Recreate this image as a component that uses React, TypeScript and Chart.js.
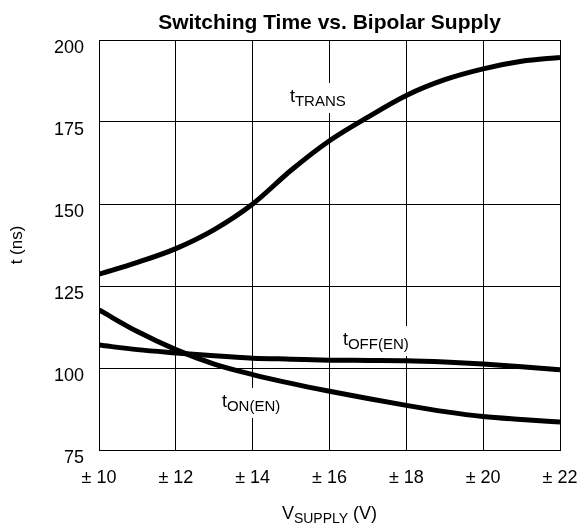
import React, { useEffect, useRef } from "react";
import { Chart, registerables } from "chart.js";

Chart.register(...registerables);

const supplyVolts = [10, 11, 12, 13, 14, 15, 16, 17, 18, 19, 20, 21, 22];
const tTrans = [128.6, 132.2, 136.4, 142.2, 150, 160.3, 169.3, 176.5, 183.1, 187.9, 191.2, 193.5, 194.7];
const tOffEn = [107, 105.6, 104.6, 103.7, 103, 102.7, 102.4, 102.3, 102.2, 101.8, 101.2, 100.4, 99.5];
const tOnEn = [117.7, 111.1, 105.6, 101.2, 98, 95.3, 92.9, 90.7, 88.6, 86.7, 85.2, 84.3, 83.5];
const xTickValues = [10, 12, 14, 16, 18, 20, 22];
const yTickValues = [75, 100, 125, 150, 175, 200];

const FONT = "'Liberation Sans', Arial, sans-serif";

const curveLabels = [
  { main: "t", sub: "TRANS", x: 14.97, y: 181.1 },
  { main: "t", sub: "OFF(EN)", x: 16.35, y: 107.0 },
  { main: "t", sub: "ON(EN)", x: 13.2, y: 88.1 },
];

const textPlugin = {
  id: "customText",
  beforeDatasetsDraw(chart: any) {
    const ctx = chart.ctx;
    const xs = chart.scales.x;
    const ys = chart.scales.y;
    ctx.save();
    for (const l of curveLabels) {
      const px = xs.getPixelForValue(l.x);
      const py = ys.getPixelForValue(l.y);
      ctx.font = `18px ${FONT}`;
      const wm = ctx.measureText(l.main).width;
      ctx.font = `15px ${FONT}`;
      const ws = ctx.measureText(l.sub).width;
      ctx.fillStyle = "#fff";
      ctx.fillRect(px - 4, py - 19, wm + ws + 8, 30);
      ctx.fillStyle = "#000";
      ctx.textBaseline = "alphabetic";
      ctx.textAlign = "left";
      ctx.font = `18px ${FONT}`;
      ctx.fillText(l.main, px, py);
      ctx.font = `15px ${FONT}`;
      ctx.fillText(l.sub, px + wm, py + 4);
    }
    ctx.restore();
  },
  afterDraw(chart: any) {
    const ctx = chart.ctx;
    const area = chart.chartArea;
    const cx = (area.left + area.right) / 2;
    ctx.save();
    ctx.fillStyle = "#000";
    // title
    ctx.font = `bold 21px ${FONT}`;
    ctx.textAlign = "center";
    ctx.textBaseline = "alphabetic";
    ctx.fillText("Switching Time vs. Bipolar Supply", cx, 29);
    // x-axis title with subscript
    ctx.textAlign = "left";
    ctx.font = `18px ${FONT}`;
    const w1 = ctx.measureText("V").width;
    const w3 = ctx.measureText(" (V)").width;
    ctx.font = `14px ${FONT}`;
    const w2 = ctx.measureText("SUPPLY").width;
    let x0 = cx - (w1 + w2 + w3) / 2;
    ctx.font = `18px ${FONT}`;
    ctx.fillText("V", x0, 519);
    ctx.font = `14px ${FONT}`;
    ctx.fillText("SUPPLY", x0 + w1, 523);
    ctx.font = `18px ${FONT}`;
    ctx.fillText(" (V)", x0 + w1 + w2, 519);
    // y-axis title
    ctx.translate(17, (area.top + area.bottom) / 2);
    ctx.rotate(-Math.PI / 2);
    ctx.textAlign = "center";
    ctx.textBaseline = "middle";
    ctx.font = `17px ${FONT}`;
    ctx.fillText("t (ns)", 0, 0);
    ctx.restore();
  },
};

export default function App() {
  const ref = useRef<HTMLCanvasElement>(null);
  useEffect(() => {
    if (!ref.current) return;
    const mk = (vals: number[]) => supplyVolts.map((v, i) => ({ x: v, y: vals[i] }));
    const ds = (label: string, vals: number[]) => ({
      label,
      data: mk(vals),
      borderColor: "#000",
      borderWidth: 5,
      pointRadius: 0,
      fill: false,
      cubicInterpolationMode: "monotone" as const,
    });
    const chart = new Chart(ref.current, {
      type: "line",
      data: {
        datasets: [ds("tTRANS", tTrans), ds("tOFF(EN)", tOffEn), ds("tON(EN)", tOnEn)],
      },
      options: {
        responsive: false,
        animation: false,
        layout: { padding: { top: 40, right: 20, left: 0, bottom: 0 } },
        plugins: { legend: { display: false }, tooltip: { enabled: false }, title: { display: false } },
        scales: {
          x: {
            type: "linear",
            min: 10,
            max: 22,
            afterBuildTicks: (s: any) => {
              s.ticks = xTickValues.map((v) => ({ value: v }));
            },
            afterFit: (s: any) => {
              s.height = 77;
              s.paddingLeft = 0;
              s.paddingRight = 0;
            },
            ticks: {
              color: "#000",
              font: { family: FONT, size: 18 },
              padding: 17,
              maxRotation: 0,
              callback: (v: any) => "\u00b1 " + v,
            },
            grid: { color: "#000", lineWidth: 1, drawTicks: false },
            border: { color: "#000", width: 1 },
          },
          y: {
            type: "linear",
            min: 75,
            max: 200,
            afterBuildTicks: (s: any) => {
              s.ticks = yTickValues.map((v) => ({ value: v }));
            },
            afterFit: (s: any) => {
              s.width = 99;
              s.paddingTop = 0;
              s.paddingBottom = 0;
            },
            ticks: {
              color: "#000",
              font: { family: FONT, size: 18 },
              padding: 15,
              labelOffset: 8,
            },
            grid: { color: "#000", lineWidth: 1, drawTicks: false },
            border: { color: "#000", width: 1 },
          },
        },
      },
      plugins: [textPlugin],
    });
    return () => chart.destroy();
  }, []);
  return (
    <div style={{ position: "fixed", left: 0, top: 0, width: 580, height: 527, background: "#fff" }}>
      <canvas ref={ref} width={580} height={527} />
    </div>
  );
}
